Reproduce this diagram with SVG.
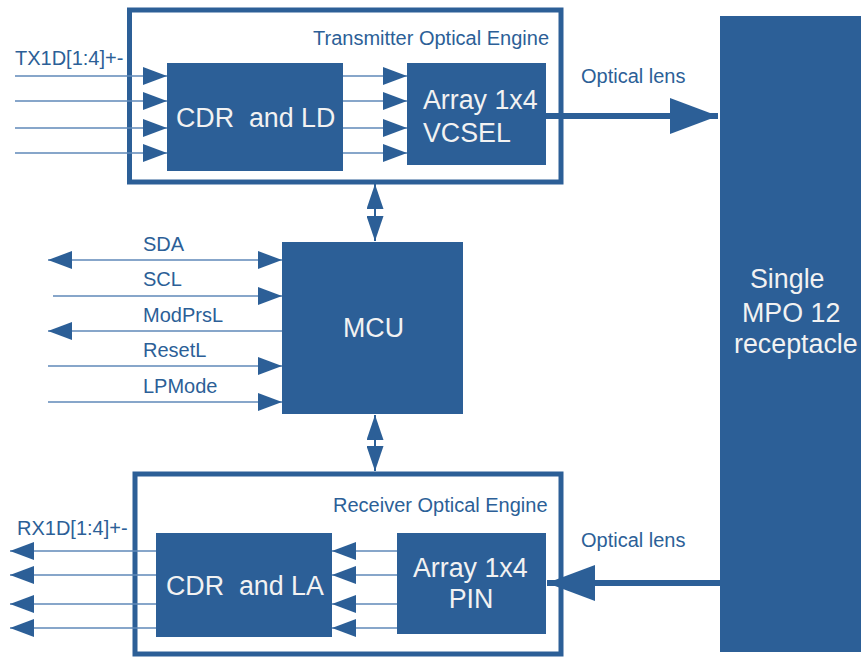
<svg xmlns="http://www.w3.org/2000/svg" width="861" height="657" viewBox="0 0 861 657">
<style>
.bg{fill:#ffffff}
.blk{fill:#2c5f97}
.frame{fill:none;stroke:#2c5f97;stroke-width:5}
.sig{stroke:#5f89b8;stroke-width:1.6;fill:none}
.opt{stroke:#2c5f97;stroke-width:6;fill:none}
.vert{stroke:#2c5f97;stroke-width:2;fill:none}
.lbl{font-family:"Liberation Sans",Arial,sans-serif;font-size:20px;fill:#2c5f97}
.big{font-family:"Liberation Sans",Arial,sans-serif;font-size:26.8px;fill:#f2f2f2;white-space:pre}
</style>
<defs>
<marker id="ah" markerUnits="userSpaceOnUse" markerWidth="24" markerHeight="18" refX="24" refY="9" orient="auto-start-reverse" viewBox="0 0 24 18"><path d="M0,0 L24,9 L0,18 z" fill="#2c5f97"/></marker>
<marker id="av" markerUnits="userSpaceOnUse" markerWidth="25" markerHeight="17" refX="25" refY="8.5" orient="auto-start-reverse" viewBox="0 0 25 17"><path d="M0,0 L25,8.5 L0,17 z" fill="#2c5f97"/></marker>
<marker id="abig" markerUnits="userSpaceOnUse" markerWidth="48" markerHeight="36" refX="48" refY="18" orient="auto" viewBox="0 0 48 36"><path d="M0,0 L48,18 L0,36 z" fill="#2c5f97"/></marker>
</defs>
<rect class="bg" x="0" y="0" width="861" height="657"/>

<g id="tx-engine">
<rect class="frame" x="129.5" y="10" width="431.5" height="172"/>
<text class="lbl" x="313" y="45">Transmitter Optical Engine</text>
</g>
<g id="cdr-ld">
<rect class="blk" x="167" y="63" width="176" height="108"/>
<text class="big" x="176" y="127">CDR  and LD</text>
</g>
<g id="vcsel">
<rect class="blk" x="407" y="63" width="139" height="102"/>
<text class="big" x="423" y="109">Array 1x4</text>
<text class="big" x="423" y="142">VCSEL</text>
</g>
<g id="mcu">
<rect class="blk" x="282" y="242" width="181" height="172"/>
<text class="big" x="343" y="337">MCU</text>
</g>
<g id="rx-engine">
<rect class="frame" x="135" y="474" width="426" height="180"/>
<text class="lbl" x="333" y="512">Receiver Optical Engine</text>
</g>
<g id="cdr-la">
<rect class="blk" x="156" y="533" width="176" height="104"/>
<text class="big" x="166" y="595">CDR  and LA</text>
</g>
<g id="pin">
<rect class="blk" x="397" y="533" width="149" height="101"/>
<text class="big" x="413" y="577">Array 1x4</text>
<text class="big" x="471" y="608" text-anchor="middle">PIN</text>
</g>
<g id="mpo">
<rect class="blk" x="720" y="16" width="141" height="636"/>
<text class="big" x="750" y="288">Single</text>
<text class="big" x="742" y="322">MPO 12</text>
<text class="big" x="734" y="353">receptacle</text>
</g>

<g id="labels">
<text class="lbl" x="15" y="65">TX1D[1:4]+-</text>
<text class="lbl" x="17" y="535">RX1D[1:4]+-</text>
<text class="lbl" x="581" y="83">Optical lens</text>
<text class="lbl" x="581" y="547">Optical lens</text>
<text class="lbl" x="143" y="251">SDA</text>
<text class="lbl" x="143" y="286">SCL</text>
<text class="lbl" x="143" y="322">ModPrsL</text>
<text class="lbl" x="143" y="357">ResetL</text>
<text class="lbl" x="143" y="393">LPMode</text>
</g>

<g id="connectors">
<line class="sig" x1="15" y1="76" x2="167" y2="76" marker-end="url(#ah)"/>
<line class="sig" x1="15" y1="101" x2="167" y2="101" marker-end="url(#ah)"/>
<line class="sig" x1="15" y1="128" x2="167" y2="128" marker-end="url(#ah)"/>
<line class="sig" x1="15" y1="153" x2="167" y2="153" marker-end="url(#ah)"/>
<line class="sig" x1="343" y1="76" x2="407" y2="76" marker-end="url(#ah)"/>
<line class="sig" x1="343" y1="101" x2="407" y2="101" marker-end="url(#ah)"/>
<line class="sig" x1="343" y1="128" x2="407" y2="128" marker-end="url(#ah)"/>
<line class="sig" x1="343" y1="153" x2="407" y2="153" marker-end="url(#ah)"/>

<line class="sig" x1="48" y1="260" x2="282" y2="260" marker-start="url(#ah)" marker-end="url(#ah)"/>
<line class="sig" x1="53" y1="296" x2="282" y2="296" marker-end="url(#ah)"/>
<line class="sig" x1="282" y1="331" x2="48" y2="331" marker-end="url(#ah)"/>
<line class="sig" x1="48" y1="366" x2="282" y2="366" marker-end="url(#ah)"/>
<line class="sig" x1="48" y1="402" x2="282" y2="402" marker-end="url(#ah)"/>

<line class="vert" x1="375" y1="184" x2="375" y2="241" marker-start="url(#av)" marker-end="url(#av)"/>
<line class="vert" x1="375" y1="415" x2="375" y2="471" marker-start="url(#av)" marker-end="url(#av)"/>

<line class="sig" x1="156" y1="551" x2="10" y2="551" marker-end="url(#ah)"/>
<line class="sig" x1="156" y1="575" x2="10" y2="575" marker-end="url(#ah)"/>
<line class="sig" x1="156" y1="604" x2="10" y2="604" marker-end="url(#ah)"/>
<line class="sig" x1="156" y1="628" x2="10" y2="628" marker-end="url(#ah)"/>
<line class="sig" x1="397" y1="551" x2="332" y2="551" marker-end="url(#ah)"/>
<line class="sig" x1="397" y1="575" x2="332" y2="575" marker-end="url(#ah)"/>
<line class="sig" x1="397" y1="604" x2="332" y2="604" marker-end="url(#ah)"/>
<line class="sig" x1="397" y1="628" x2="332" y2="628" marker-end="url(#ah)"/>

<line class="opt" x1="546" y1="116" x2="718" y2="116" marker-end="url(#abig)"/>
<line class="opt" x1="720" y1="583" x2="547" y2="583" marker-end="url(#abig)"/>
</g>
</svg>
